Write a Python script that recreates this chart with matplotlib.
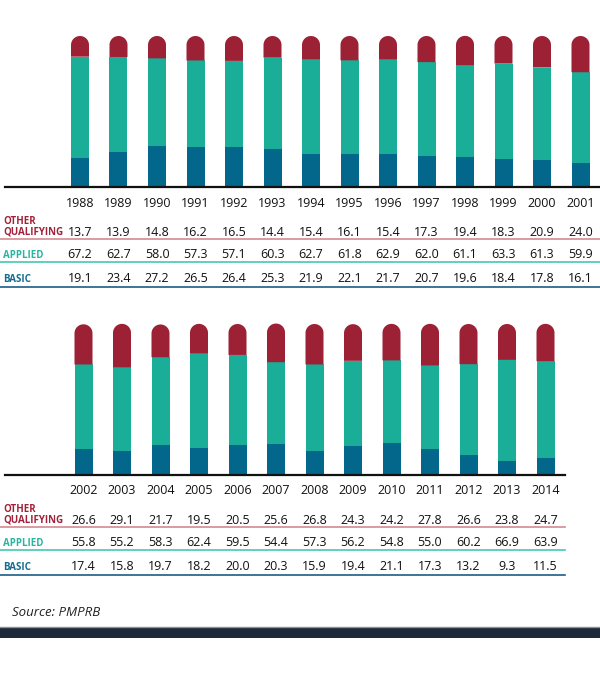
import numpy as np
import matplotlib.pyplot as plt
import matplotlib.transforms as mtransforms
from matplotlib.patches import PathPatch
from matplotlib.path import Path
from matplotlib.lines import Line2D

plt.rcParams['font.family'] = ['Open Sans', 'DejaVu Sans']

# data (percent of R&D spending by type)
years_a = ['1988', '1989', '1990', '1991', '1992', '1993', '1994',
           '1995', '1996', '1997', '1998', '1999', '2000', '2001']
other_a = [13.7, 13.9, 14.8, 16.2, 16.5, 14.4, 15.4, 16.1, 15.4, 17.3, 19.4, 18.3, 20.9, 24.0]
applied_a = [67.2, 62.7, 58.0, 57.3, 57.1, 60.3, 62.7, 61.8, 62.9, 62.0, 61.1, 63.3, 61.3, 59.9]
basic_a = [19.1, 23.4, 27.2, 26.5, 26.4, 25.3, 21.9, 22.1, 21.7, 20.7, 19.6, 18.4, 17.8, 16.1]

years_b = ['2002', '2003', '2004', '2005', '2006', '2007', '2008',
           '2009', '2010', '2011', '2012', '2013', '2014']
other_b = [26.6, 29.1, 21.7, 19.5, 20.5, 25.6, 26.8, 24.3, 24.2, 27.8, 26.6, 23.8, 24.7]
applied_b = [55.8, 55.2, 58.3, 62.4, 59.5, 54.4, 57.3, 56.2, 54.8, 55.0, 60.2, 66.9, 63.9]
basic_b = [17.4, 15.8, 19.7, 18.2, 20.0, 20.3, 15.9, 19.4, 21.1, 17.3, 13.2, 9.3, 11.5]

RED = '#9d2134'
TEAL = '#1aad97'
BLUE = '#03678b'
RED_TXT = '#a3223a'
TEAL_TXT = '#2ab5a0'
BLUE_TXT = '#156b92'
RED_LINE = '#d38a91'
TEAL_LINE = '#45c8b4'
BLUE_LINE = '#1b5c86'

W, H = 600, 679
PITCH = 38.5      # px between bars
PPU = 1.51        # px per percent
BAR_W = 18 / PITCH

fig = plt.figure(figsize=(6, 6.79), dpi=100)


def hline(x0, x1, y, color, lw):
    fig.add_artist(Line2D([x0 / W, x1 / W], [1 - y / H] * 2, color=color, lw=lw))


def capped_bar(ax, xc, bottom, top, color):
    # bar segment with a semicircular top; radius is half the bar width on screen
    r = BAR_W / 2
    ry = r * PITCH / PPU
    t = np.linspace(0, np.pi, 40)
    xs = np.concatenate([[xc + r, xc + r], xc + r * np.cos(t), [xc - r, xc + r]])
    ys = np.concatenate([[bottom, top - ry], top - ry + ry * np.sin(t), [bottom, bottom]])
    codes = [Path.MOVETO] + [Path.LINETO] * (len(xs) - 2) + [Path.CLOSEPOLY]
    ax.add_patch(PathPatch(Path(np.column_stack([xs, ys]), codes),
                           fc=color, ec='none', zorder=3))


def panel(years, other, applied, basic, first_cx, base_px, top_px, right_px, rows):
    ax = fig.add_axes([0, 1 - base_px / H, 1, (base_px - top_px) / H])
    ax.set_xlim(-first_cx / PITCH, (W - first_cx) / PITCH)
    ax.set_ylim(0, (base_px - top_px) / PPU)
    ax.axis('off')
    x = list(range(len(years)))
    ax.bar(x, basic, width=BAR_W, color=BLUE, zorder=3)
    ax.bar(x, applied, bottom=basic, width=BAR_W, color=TEAL, zorder=3)
    for i in x:
        b = basic[i] + applied[i]
        capped_bar(ax, i, b, b + other[i], RED)

    # baseline
    ax.plot([(5 - first_cx) / PITCH, (right_px - first_cx) / PITCH], [0, 0],
            color='#111111', lw=1.6, clip_on=False, zorder=4)

    tr = mtransforms.blended_transform_factory(ax.transData, fig.transFigure)
    y_year, y_other, y_app, y_bas = rows
    fy = lambda p: 1 - p / H
    for i in x:
        ax.text(i, fy(y_year), years[i], transform=tr, ha='center', va='center',
                fontsize=9, color='#111111')
        ax.text(i, fy(y_other), '%.1f' % other[i], transform=tr, ha='center',
                va='center', fontsize=9, color='#111111')
        ax.text(i, fy(y_app), '%.1f' % applied[i], transform=tr, ha='center',
                va='center', fontsize=9, color='#111111')
        ax.text(i, fy(y_bas), '%.1f' % basic[i], transform=tr, ha='center',
                va='center', fontsize=9, color='#111111')

    fig.text(3 / W, fy(y_other - 10), 'OTHER', ha='left', va='center',
             fontsize=7, fontweight='bold', color=RED_TXT)
    fig.text(3 / W, fy(y_other), 'QUALIFYING', ha='left', va='center',
             fontsize=7, fontweight='bold', color=RED_TXT)
    fig.text(3 / W, fy(y_app), 'APPLIED', ha='left', va='center',
             fontsize=7, fontweight='bold', color=TEAL_TXT)
    fig.text(3 / W, fy(y_bas), 'BASIC', ha='left', va='center',
             fontsize=7, fontweight='bold', color=BLUE_TXT)

    hline(0, right_px, y_other + 6.5, RED_LINE, 1.2)
    hline(0, right_px, y_app + 7, TEAL_LINE, 1.2)
    hline(0, right_px, y_bas + 8, BLUE_LINE, 1.2)
    return ax


panel(years_a, other_a, applied_a, basic_a, 80, 187, 30, 600,
      (203, 232, 255, 279))
panel(years_b, other_b, applied_b, basic_b, 83.5, 475, 318, 565,
      (491, 520, 543, 567))

fig.text(12 / W, 1 - 613 / H, 'Source: PMPRB', ha='left', va='center',
         fontsize=9.5, fontstyle='italic', color='#222222')
hline(0, W, 627, '#8a9099', 1.0)
fig.add_artist(plt.Rectangle((0, 1 - 638 / H), 1, 10 / H, transform=fig.transFigure,
                             fc='#1c2a3a', ec='none'))

fig.savefig('out.png', dpi=100)
